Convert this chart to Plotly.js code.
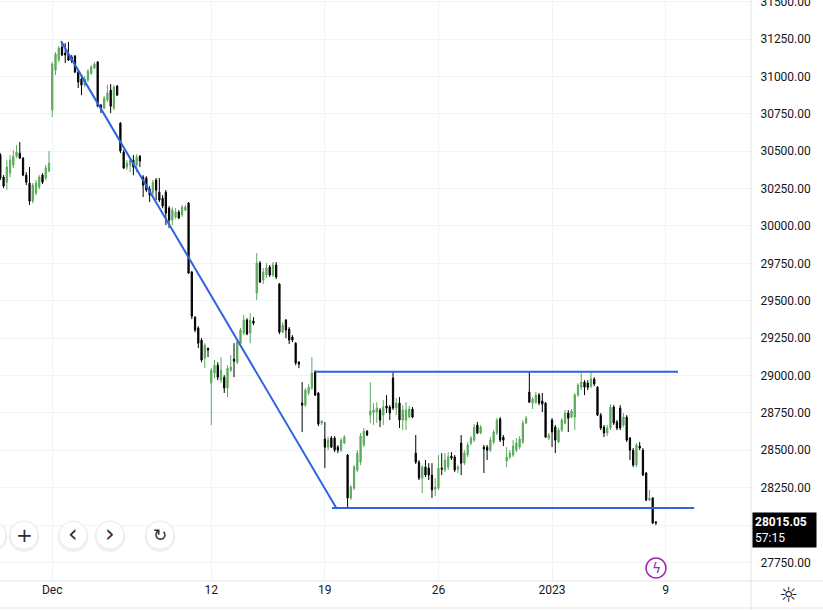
<!DOCTYPE html>
<html><head><meta charset="utf-8">
<script src="https://cdn.plot.ly/plotly-3.0.1.min.js"></script>
<style>html,body{margin:0;padding:0;background:#fff;}#chart{width:823px;height:610px;}</style>
</head><body><div id="chart"></div>
<script>
// Hourly candles, 29 Nov 2022 - 6 Jan 2023 (trading hours only)
const openP = [30474,30327,30293,30353,30407,30467,30487,30454,30340,30287,30166,30220,30260,30340,30320,30367,
30775,31042,31109,31196,31156,31149,31129,31136,31029,30982,30942,30976,31022,31056,
31096,30808,30788,30842,30909,30788,30935,30688,30494,30394,30407,30440,30407,30467,
30327,30320,30246,30220,30307,30226,30186,30226,30119,30039,30059,30093,30073,30106,
30153,29692,29390,29317,29237,29116,29183,28949,29016,29069,28969,28989,28916,29036,
29110,29089,29216,29284,29371,29284,29364,29552,29752,29638,29672,29725,29672,29739,
29612,29290,29371,29310,29257,29216,29089,28816,28802,28883,28916,29023,28883,28682,
28575,28521,28582,28582,28521,28501,28548,28468,28181,28247,28368,28421,28535,28628,
28735,28749,28756,28769,28735,28796,28789,28983,28782,28816,28702,28702,28722,28776,
28481,28421,28314,28388,28381,28334,28241,28247,28381,28368,28388,28461,28455,28374,
28548,28414,28468,28548,28568,28669,28615,28521,28521,28501,28555,28615,28709,28588,
28428,28455,28468,28501,28521,28555,28682,28889,28816,28822,28869,28829,28816,28582,
28702,28655,28555,28635,28682,28749,28722,28722,28869,28922,28956,28949,28929,28976,
28922,28735,28655,28615,28649,28789,28689,28782,28669,28722,28582,28501,28401,28528,
28501,28348,28167,28181,28020];
const highP = [30487,30340,30440,30474,30507,30541,30561,30460,30360,30394,30287,30307,30340,30353,30407,30501,
31096,31163,31203,31230,31223,31230,31143,31143,31042,30996,31002,31049,31076,31096,
31103,30815,30869,30942,30949,30942,30942,30694,30507,30440,30454,30474,30480,30474,
30340,30333,30267,30307,30320,30320,30206,30240,30133,30126,30119,30106,30140,30140,
30160,29699,29397,29330,29250,29216,29183,29049,29103,29089,29123,29003,29069,29136,
29216,29237,29317,29404,29384,29417,29390,29819,29766,29719,29752,29739,29759,29759,
29618,29357,29377,29324,29270,29223,29096,28956,28916,28943,29123,29036,28889,28702,
28689,28588,28595,28595,28535,28582,28602,28475,28267,28401,28501,28615,28649,28635,
28956,28816,28822,28782,28836,28869,28802,29023,28849,28856,28802,28822,28796,28789,
28602,28435,28401,28435,28414,28414,28314,28468,28481,28481,28488,28488,28468,28401,
28602,28501,28555,28595,28675,28689,28669,28535,28535,28588,28635,28715,28722,28602,
28521,28501,28568,28582,28595,28702,28729,29023,28856,28889,28883,28883,28822,28615,
28715,28669,28649,28715,28769,28769,28776,28883,28949,29016,28969,28969,29023,28989,
28929,28749,28669,28669,28809,28802,28702,28802,28749,28735,28588,28515,28548,28555,
28515,28354,28234,28187,28027];
const lowP = [30307,30253,30240,30327,30387,30454,30447,30333,30273,30140,30153,30206,30246,30280,30307,30360,
30728,31009,31096,31136,31089,31103,31089,31022,30922,30875,30929,30962,31009,31049,
30795,30755,30781,30828,30755,30775,30869,30487,30380,30374,30360,30340,30360,30394,
30193,30226,30160,30193,30173,30160,30119,30006,29986,30006,30046,30046,30059,30099,
29679,29377,29290,29183,29089,29049,29123,28669,28983,28969,28949,28883,28856,29023,
28989,29076,29203,29270,29270,29216,29337,29504,29618,29612,29652,29659,29659,29645,
29277,29284,29250,29210,29223,29069,29049,28622,28789,28869,28903,28863,28662,28669,
28381,28501,28515,28488,28481,28488,28541,28114,28167,28234,28354,28401,28521,28595,
28682,28669,28682,28655,28669,28749,28702,28769,28735,28649,28635,28635,28715,28715,
28408,28301,28214,28321,28301,28181,28194,28234,28334,28354,28368,28435,28354,28348,
28334,28401,28455,28535,28555,28608,28608,28348,28435,28488,28541,28602,28555,28528,
28388,28441,28455,28488,28508,28541,28675,28816,28776,28809,28802,28756,28582,28568,
28521,28481,28548,28622,28675,28622,28715,28635,28856,28903,28869,28903,28916,28929,
28729,28635,28588,28595,28635,28669,28635,28635,28655,28555,28435,28388,28388,28501,
28328,28160,28160,28007,28000];
const closeP = [30320,30267,30394,30440,30467,30494,30454,30340,30293,30166,30273,30287,30327,30293,30387,30420,
31083,31149,31190,31143,31143,31109,31103,31029,30962,30942,30982,31036,31063,31083,
30801,30788,30855,30889,30801,30929,30875,30501,30387,30420,30440,30394,30460,30434,
30273,30240,30206,30293,30240,30173,30133,30086,30039,30106,30093,30053,30126,30126,
29685,29397,29304,29216,29103,29203,29170,29036,29069,28989,29036,28916,29049,29056,
29096,29223,29304,29371,29277,29371,29350,29752,29625,29692,29719,29672,29739,29659,
29290,29337,29304,29237,29237,29083,29076,28802,28903,28922,29016,28869,28675,28695,
28521,28568,28521,28501,28501,28568,28588,28181,28254,28388,28481,28595,28628,28602,
28762,28769,28782,28702,28789,28782,28749,28782,28816,28702,28769,28769,28776,28722,
28421,28314,28388,28334,28334,28234,28254,28381,28374,28435,28455,28448,28368,28388,
28414,28481,28535,28582,28655,28615,28655,28508,28501,28568,28622,28702,28568,28568,
28455,28481,28528,28548,28575,28682,28715,28822,28843,28869,28816,28809,28588,28602,
28622,28568,28635,28702,28749,28715,28762,28869,28936,28956,28922,28922,28976,28943,
28735,28649,28615,28649,28789,28682,28649,28649,28722,28568,28501,28401,28535,28515,
28334,28167,28181,28013,28015.05];

// x-axis labels (bar index where each label sits)
const tickPos = [16, 65, 100, 135, 170, 205];
const tickText = ['Dec', '12', '19', '26', '2023', '9'];

// price-axis levels; the 28000 label is hidden behind the last-price box
const priceTicks = [27750, 28000, 28250, 28500, 28750, 29000, 29250, 29500, 29750, 30000, 30250, 30500, 30750, 31000, 31250, 31500];
const priceTickText = ['27750.00', '', '28250.00', '28500.00', '28750.00', '29000.00', '29250.00', '29500.00', '29750.00', '30000.00', '30250.00', '30500.00', '30750.00', '31000.00', '31250.00', '31500.00'];

// Drawn trend lines (bar index, price)
const downTrendX = [18.7, 103.7];
const downTrendY = [31236, 28108];
const topLineX = [97, 208.8];
const topLineY = [29025, 29025];
const bottomLineX = [102.2, 213.8];
const bottomLineY = [28114, 28114];

const lastPrice = '28015.05';
const countdown = '57:15';

const xIdx = openP.map((_, i) => i);

const W = 751, H = 581;
const px = v => v / W;
const py = v => 1 - v / H;

const traces = [
  {type:'candlestick', x:xIdx, open:openP, high:highP, low:lowP, close:closeP,
   increasing:{line:{color:'#5aaa5a', width:1}, fillcolor:'#5aaa5a'},
   decreasing:{line:{color:'#000000', width:1}, fillcolor:'#000000'},
   whiskerwidth:0, hoverinfo:'skip', showlegend:false},
  {type:'scatter', mode:'lines', x:downTrendX, y:downTrendY, line:{color:'#2f63e0', width:2}, hoverinfo:'skip', showlegend:false},
  {type:'scatter', mode:'lines', x:topLineX, y:topLineY, line:{color:'#2f63e0', width:2}, hoverinfo:'skip', showlegend:false},
  {type:'scatter', mode:'lines', x:bottomLineX, y:bottomLineY, line:{color:'#2f63e0', width:2}, hoverinfo:'skip', showlegend:false}
];

function btn(cx, cy, r) {
  return [
    {type:'circle', xref:'paper', yref:'paper', xsizemode:'pixel', ysizemode:'pixel',
     xanchor:px(cx), yanchor:py(cy+1.5), x0:-r-1.5, x1:r+1.5, y0:-r-1.5, y1:r+1.5,
     fillcolor:'rgba(0,0,0,0.06)', line:{width:0}, layer:'above'},
    {type:'circle', xref:'paper', yref:'paper', xsizemode:'pixel', ysizemode:'pixel',
     xanchor:px(cx), yanchor:py(cy), x0:-r, x1:r, y0:-r, y1:r,
     fillcolor:'#ffffff', line:{color:'#ececec', width:1}, layer:'above'}
  ];
}

const shapes = [].concat(
  btn(-8, 535, 14), btn(24, 535, 14), btn(73, 535, 14), btn(110, 535, 14), btn(160, 535, 14),
  [
    {type:'circle', xref:'paper', yref:'paper', xsizemode:'pixel', ysizemode:'pixel',
     xanchor:px(656), yanchor:py(568), x0:-10, x1:10, y0:-10, y1:10,
     fillcolor:'rgba(0,0,0,0)', line:{color:'#9c27b0', width:1.5}, layer:'above'},
    {type:'line', xref:'paper', yref:'paper', x0:0, x1:823/W, y0:0, y1:0, line:{color:'#e0e3eb', width:1}},
    {type:'line', xref:'paper', yref:'paper', x0:1, x1:1, y0:-29/H, y1:1, line:{color:'#e0e3eb', width:1}},
    {type:'line', xref:'paper', yref:'paper', x0:0, x1:823/W, y0:py(608), y1:py(608), line:{color:'#e0e3eb', width:1}}
  ]
);

const icon = (x, y, t, size, color) => ({xref:'paper', yref:'paper', x:px(x), y:py(y), xanchor:'center', yanchor:'middle',
  text:t, showarrow:false, font:{family:'DejaVu Sans', size:size, color:color}});

const annotations = [
  icon(24, 535, '+', 20, '#2a2e39'),
  icon(73, 534, '‹', 24, '#2a2e39'),
  icon(110, 534, '›', 24, '#2a2e39'),
  icon(160, 535, '↻', 17, '#2a2e39'),
  icon(656, 568, 'ϟ', 14, '#9c27b0'),
  icon(788, 595, '☼', 21, '#131722'),
  {xref:'paper', yref:'paper', x:px(752), y:py(529.5), xanchor:'left', yanchor:'middle', align:'left',
   text:'<b>' + lastPrice + '</b><br>' + countdown, showarrow:false, bgcolor:'#000000',
   borderpad:2, font:{family:'Roboto', size:12, color:'#ffffff'}, width:59}
];

const layout = {
  width:823, height:610,
  margin:{l:0, r:72, t:0, b:29, pad:0},
  paper_bgcolor:'#ffffff', plot_bgcolor:'#ffffff',
  font:{family:'Roboto, sans-serif', size:12, color:'#131722'},
  showlegend:false, boxgap:0.45, dragmode:false,
  xaxis:{range:[-0.1, 231.3], tickmode:'array', tickvals:tickPos, ticktext:tickText,
         showgrid:true, gridcolor:'#f0f3fa', gridwidth:1, zeroline:false, showline:false,
         ticks:'', rangeslider:{visible:false}, fixedrange:true,
         tickfont:{family:'Roboto', size:12, color:'#131722'}},
  yaxis:{range:[27626, 31511], side:'right', tickmode:'array', tickvals:priceTicks, ticktext:priceTickText,
         showgrid:true, gridcolor:'#f0f3fa', gridwidth:1, zeroline:false, showline:false,
         ticks:'outside', ticklen:6, tickcolor:'rgba(0,0,0,0)', fixedrange:true,
         ticklabeloverflow:'allow',
         tickfont:{family:'Roboto', size:12, color:'#131722'}},
  shapes:shapes, annotations:annotations
};

Plotly.newPlot('chart', traces, layout, {displayModeBar:false, staticPlot:true});
</script>
</body></html>
